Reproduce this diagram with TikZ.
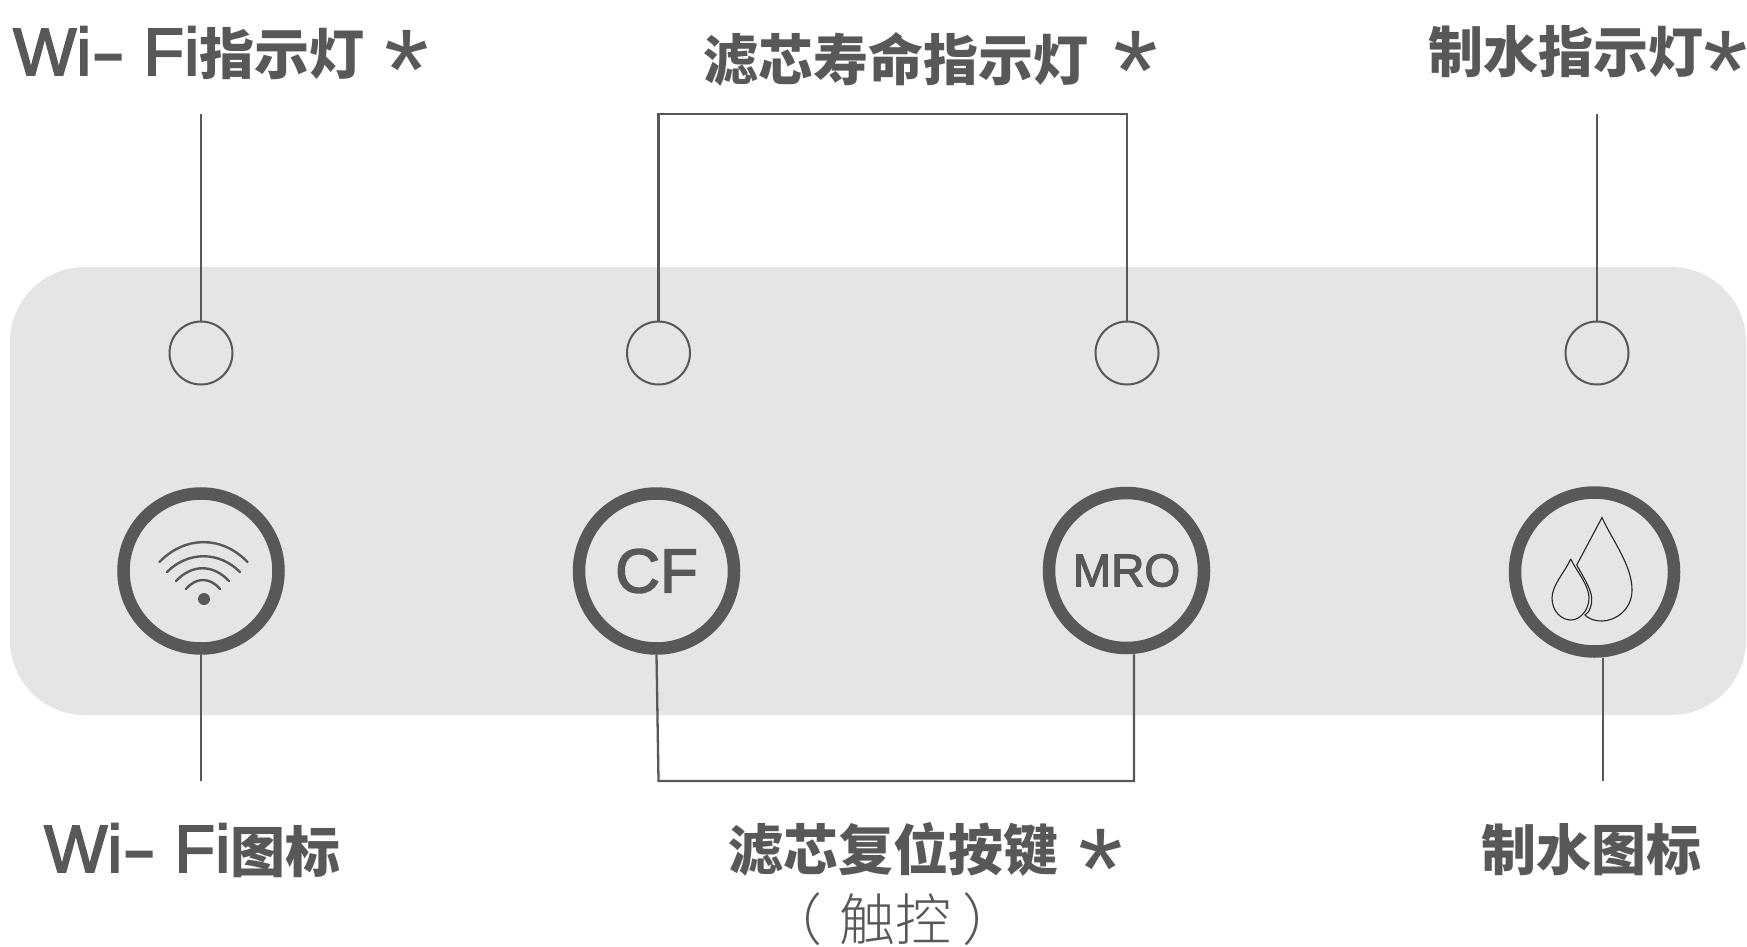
\documentclass[tikz,border=0pt]{standalone}
\usepackage{fontspec}
\setmainfont{Liberation Sans}[FakeBold=2.5]
\newfontfamily\cjk{Noto Sans CJK SC}
\newfontfamily\cjklight{Noto Sans CJK SC Light}
\newfontfamily\plainsans{Liberation Sans}
\definecolor{panelgrey}{HTML}{E5E5E5}
\definecolor{inkgrey}{HTML}{595757}
\newcommand{\HAN}[1]{{\fontsize{55}{55}\selectfont\cjk\bfseries #1}}
\newcommand{\LAT}{{\fontsize{67}{67}\selectfont Wi\scalebox{1.5}[1]{-} Fi}}
\newcommand{\AST}[2]{\hspace{#1}\smash{\raisebox{-#2}{\fontsize{115}{115}\selectfont\plainsans *}}}
\tikzset{
  lamp/.style={circle, draw=inkgrey, line width=2pt, minimum size=63pt, inner sep=0pt},
  knob/.style={circle, draw=inkgrey, line width=12.5pt, minimum size=155pt, inner sep=0pt, text=inkgrey},
  lead/.style={draw=inkgrey, line width=2.3pt},
  caption/.style={anchor=base west, inner sep=0pt, text=inkgrey},
  drop/.style={draw=black!85, line width=1.1pt},
  wave/.style={draw=inkgrey, line width=2.4pt, line cap=round}
}

\begin{document}
\begin{tikzpicture}[x=1pt, y=-1pt]

  \useasboundingbox (0, 0) rectangle (1747, 947);

  \fill[panelgrey, rounded corners=75pt] (10, 267) rectangle (1746, 715);

  \node[lamp] (wifilamp) at (201, 353) {};
  \node[lamp] (cflamp) at (658.5, 353) {};
  \node[lamp] (mrolamp) at (1127, 353) {};
  \node[lamp] (waterlamp) at (1597, 353) {};

  \node[knob] (wifiknob) at (201, 571) {};
  \node[knob, font=\fontsize{62}{62}\selectfont] (cfknob) at (656.5, 571) {CF};
  \node[knob, font=\fontsize{46}{46}\selectfont] (mroknob) at (1126.5, 570.5) {MRO};
  \node[knob, minimum size=159pt] (waterknob) at (1594.5, 572) {};

  % wifi icon
  \draw[wave] (159.5, 562) .. controls (185, 535.5) and (222, 535.5) .. (247.5, 562);
  \draw[wave] (167, 572) .. controls (188, 551) and (219, 551) .. (240, 572);
  \draw[wave] (176, 581) .. controls (192, 564) and (213, 564) .. (229, 581);
  \draw[wave] (186, 589) .. controls (196, 577) and (210, 577) .. (220, 589);
  \fill[inkgrey] (204, 599) circle (6pt);

  % water drops
  \draw[drop] (1576.7, 565) -- (1602, 517.5) .. controls (1612, 540) and (1632, 565) .. (1632, 590)
    .. controls (1632, 610) and (1615, 621) .. (1602, 621) .. controls (1592, 621) and (1587, 617) .. (1585, 615)
    .. controls (1590, 612) and (1592, 605) .. (1591.7, 598) .. controls (1591, 588) and (1582, 575) .. (1576.7, 565);
  \draw[drop] (1570.7, 559) .. controls (1565, 572) and (1552, 585) .. (1552, 598)
    .. controls (1552, 612) and (1562, 620) .. (1571, 620) .. controls (1580, 620) and (1589, 610) .. (1589, 598)
    .. controls (1589, 585) and (1577, 572) .. (1570.7, 559);

  \node[caption] (wifitop) at (13, 75) {\LAT\HAN{指示灯}\AST{20pt}{35pt}};
  \node[caption] (filtertop) at (703, 81) {\HAN{滤芯寿命指示灯}\AST{25pt}{30pt}};
  \node[caption] (watertop) at (1428, 73) {\HAN{制水指示灯}\AST{0pt}{38pt}};
  \node[caption] (wifibot) at (44, 872) {\LAT\HAN{图标}};
  \node[caption] (filterbot) at (728, 870) {\HAN{滤芯复位按键}\AST{20pt}{38pt}};
  \node[caption] (touchbot) at (766, 940) {{\fontsize{56}{56}\selectfont\cjklight （\hspace{17pt}触控\hspace{11pt}）}};
  \node[caption] (waterbot) at (1481, 870) {\HAN{制水图标}};

  \coordinate (wifiend) at (201, 114);
  \coordinate (waterend) at (1597, 114);
  \coordinate (wifidown) at (201, 781);
  \coordinate (waterdown) at (1603, 781);
  \coordinate (cfcorner) at (658.5, 781);
  \coordinate (mrocorner) at (1134, 781);

  \draw[lead] (wifiend) -- (wifilamp.north);
  \draw[lead] (waterend) -- (waterlamp.north);
  \draw[lead] (cflamp.north) -- (658.5, 114) -- (1127, 114) -- (mrolamp.north);
  \draw[lead] (wifiknob.south) -- (wifidown);
  \draw[lead] (waterknob.south -| waterdown) -- (waterdown);
  \draw[lead] (cfknob.south) -- (cfcorner) -- (mrocorner) -- (mrocorner |- mroknob.south);

\end{tikzpicture}
\end{document}
